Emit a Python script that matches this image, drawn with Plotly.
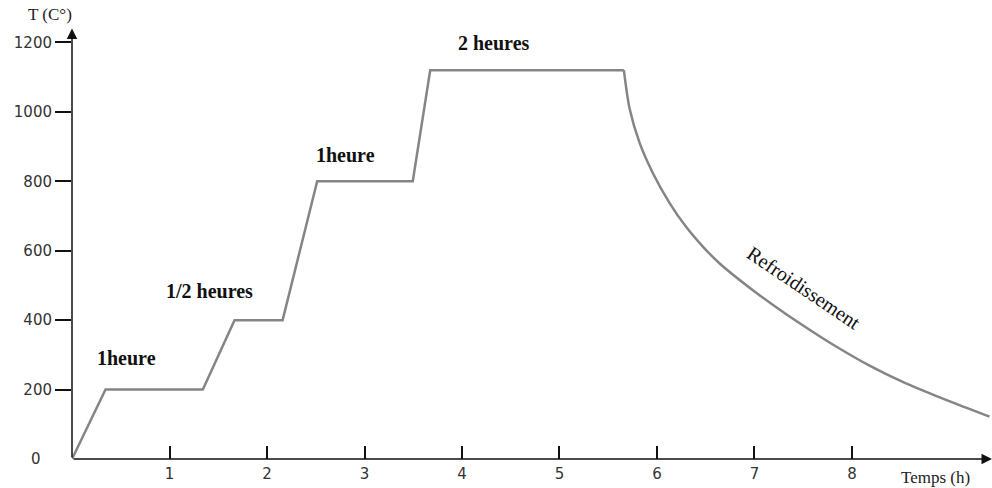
import plotly.graph_objects as go

# Heat-treatment cycle: time in hours, temperature in °C
heat_time_h = [0, 0.344, 1.342, 1.667, 2.16, 2.515, 3.495, 3.674, 5.66]
heat_temp_c = [0, 200, 200, 400, 400, 800, 800, 1120, 1120]

cool_time_h = [5.66, 5.72, 5.82, 5.957, 6.128, 6.30, 6.47, 6.64, 6.98, 7.30, 7.60, 7.85,
               8.18, 8.52, 8.86, 9.17, 9.41]
cool_temp_c = [1120, 1008, 912, 824, 738, 668, 612, 564, 487, 422, 366, 322,
               269, 222, 182, 148, 122]

x_ticks = [1, 2, 3, 4, 5, 6, 7, 8]
y_ticks = [200, 400, 600, 800, 1000, 1200]

stage_labels = ["1heure", "1/2 heures", "1heure", "2 heures"]
stage_x = [0.56, 1.41, 2.8, 4.33]
stage_y = [290, 485, 875, 1198]

x_max = 9.436
y_max = 1279
line_col = "#858585"
tick_font = dict(family="DejaVu Sans", size=15, color="#333333")
serif = "Liberation Serif"

fig = go.Figure()
fig.add_trace(go.Scatter(x=heat_time_h, y=heat_temp_c, mode="lines",
                         line=dict(color=line_col, width=2.5), hoverinfo="skip"))
fig.add_trace(go.Scatter(x=cool_time_h, y=cool_temp_c, mode="lines",
                         line=dict(color=line_col, width=2.5, shape="spline", smoothing=0.8),
                         hoverinfo="skip"))

annotations = []
# Axis arrows
annotations.append(dict(x=x_max, y=0, ax=0, ay=0, xref="x", yref="y", axref="x", ayref="y",
                        text="", showarrow=True, arrowhead=2, arrowsize=1.4, arrowwidth=1.5,
                        arrowcolor="#111111"))
annotations.append(dict(x=0, y=1240, ax=0, ay=0, xref="x", yref="y", axref="x", ayref="y",
                        text="", showarrow=True, arrowhead=2, arrowsize=1.4, arrowwidth=1.5,
                        arrowcolor="#111111"))
# Zero label at the origin
annotations.append(dict(x=0, y=0, xref="x", yref="y", text="0", showarrow=False,
                        xanchor="right", xshift=-29, font=tick_font))
# Axis titles
annotations.append(dict(x=0, y=1, xref="paper", yref="paper", text="T (C°)", showarrow=False,
                        xanchor="center", yanchor="middle", xshift=-22, yshift=1,
                        font=dict(family=serif, size=17, color="#222222")))
annotations.append(dict(x=8.86, y=0, xref="x", yref="y", text="Temps (h)", showarrow=False,
                        xanchor="center", yanchor="middle", yshift=-18,
                        font=dict(family=serif, size=17, color="#222222")))
# Stage durations
for lbl, sx, sy in zip(stage_labels, stage_x, stage_y):
    annotations.append(dict(x=sx, y=sy, xref="x", yref="y", text="<b>%s</b>" % lbl,
                            showarrow=False, font=dict(family=serif, size=20, color="#111111")))
# Cooling stage label
annotations.append(dict(x=7.51, y=492, xref="x", yref="y", text="Refroidissement",
                        showarrow=False, textangle=34,
                        font=dict(family=serif, size=20, color="#111111")))

fig.update_layout(
    width=992, height=488,
    margin=dict(l=72, r=0, t=15, b=29),
    paper_bgcolor="white", plot_bgcolor="white",
    showlegend=False,
    annotations=annotations,
    xaxis=dict(range=[0, x_max], tickvals=x_ticks, ticktext=[str(v) for v in x_ticks],
               ticks="inside", ticklen=13, tickwidth=1.5, tickcolor="#111111",
               ticklabelstandoff=4,
               showgrid=False, zeroline=False, showline=False, tickfont=tick_font),
    yaxis=dict(range=[0, y_max], tickvals=y_ticks, ticktext=[str(v) for v in y_ticks],
               ticks="outside", ticklen=16, tickwidth=1.5, tickcolor="#111111",
               showgrid=False, zeroline=False, showline=False, tickfont=tick_font),
)

fig.write_html("out.html")
